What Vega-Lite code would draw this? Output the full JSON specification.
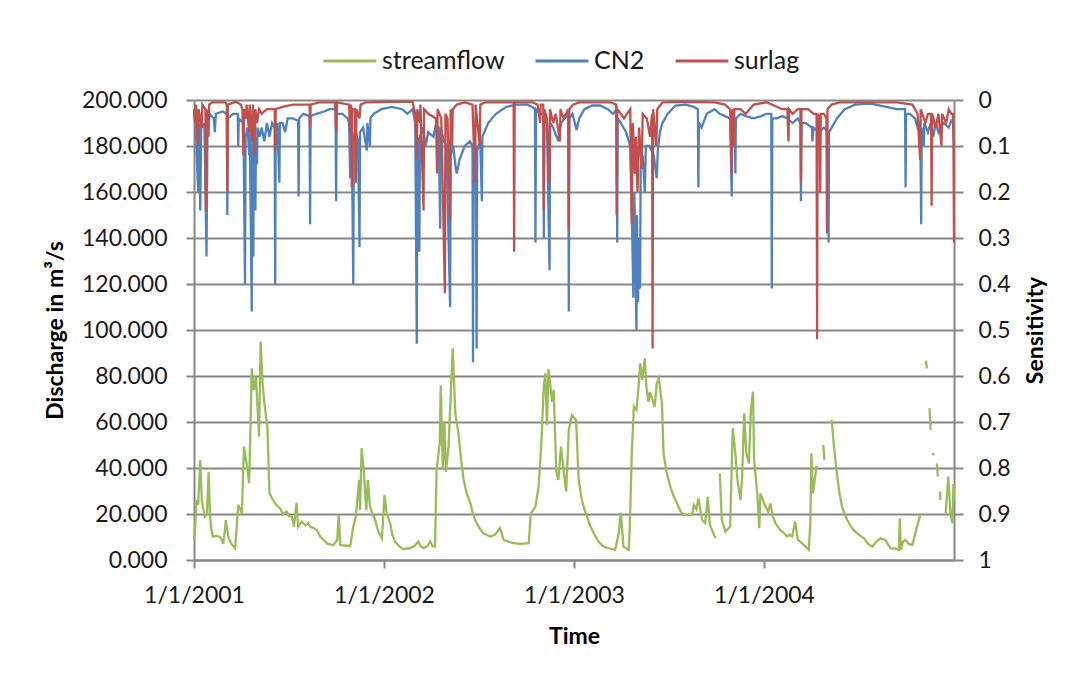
{
"$schema": "https://vega.github.io/schema/vega-lite/v6.json",
"width": 760, "height": 460,
"autosize": {"type": "none"},
"padding": {"left": 194, "top": 100, "right": 122, "bottom": 121},
"background": "white",
"config": {
  "font": "Lato",
  "view": {"stroke": null},
  "axis": {"labelFont": "Lato", "titleFont": "Lato", "labelColor": "#1a1a1a", "titleColor": "#000000", "domainColor": "#878787", "tickColor": "#878787", "gridColor": "#878787", "domainWidth": 2, "tickWidth": 2, "gridWidth": 2, "labelFontSize": 23, "titleFontSize": 23, "titleFontWeight": "bold", "labelOverlap": false, "labelFlush": false},
  "legend": {"labelFont": "Lato", "labelFontSize": 25, "labelColor": "#1a1a1a"}
},
"datasets": {
  "flow": [
    {"date":"2001-01-01","value":8.7},{"date":"2001-01-03","value":14},{"date":"2001-01-06","value":26},{"date":"2001-01-09","value":24},{"date":"2001-01-13","value":43.5},{"date":"2001-01-16","value":26},{"date":"2001-01-19","value":22},{"date":"2001-01-22","value":19},{"date":"2001-01-26","value":20},{"date":"2001-01-29","value":38.4},{"date":"2001-02-01","value":19},{"date":"2001-02-03","value":14},{"date":"2001-02-06","value":10.2},{"date":"2001-02-13","value":10.5},{"date":"2001-02-20","value":10},{"date":"2001-02-23","value":9},{"date":"2001-02-26","value":7},{"date":"2001-03-01","value":12},{"date":"2001-03-03","value":17.4},{"date":"2001-03-08","value":10},{"date":"2001-03-14","value":7},{"date":"2001-03-21","value":5.1},{"date":"2001-03-24","value":14},{"date":"2001-03-27","value":24},{"date":"2001-04-03","value":20.3},{"date":"2001-04-07","value":49.3},{"date":"2001-04-12","value":42},{"date":"2001-04-17","value":33.4},{"date":"2001-04-22","value":83.3},{"date":"2001-04-26","value":74},{"date":"2001-04-30","value":79.7},{"date":"2001-05-03","value":66.7},{"date":"2001-05-06","value":53.6},{"date":"2001-05-09","value":95},{"date":"2001-05-13","value":76},{"date":"2001-05-17","value":66.7},{"date":"2001-05-22","value":58},{"date":"2001-05-26","value":29},{"date":"2001-06-02","value":26},{"date":"2001-06-08","value":24},{"date":"2001-06-15","value":22.5},{"date":"2001-06-21","value":20},{"date":"2001-06-28","value":21},{"date":"2001-07-03","value":19},{"date":"2001-07-08","value":18.9},{"date":"2001-07-12","value":14.5},{"date":"2001-07-17","value":25},{"date":"2001-07-20","value":14.5},{"date":"2001-07-27","value":16.7},{"date":"2001-08-03","value":15},{"date":"2001-08-08","value":16},{"date":"2001-08-12","value":14.5},{"date":"2001-08-18","value":14},{"date":"2001-08-25","value":13},{"date":"2001-09-01","value":10},{"date":"2001-09-07","value":8.7},{"date":"2001-09-15","value":7},{"date":"2001-09-26","value":6.5},{"date":"2001-10-03","value":8.7},{"date":"2001-10-06","value":19.6},{"date":"2001-10-09","value":6.5},{"date":"2001-10-18","value":6.3},{"date":"2001-10-28","value":6.1},{"date":"2001-11-03","value":14.5},{"date":"2001-11-08","value":18.9},{"date":"2001-11-14","value":34.8},{"date":"2001-11-16","value":21.7},{"date":"2001-11-19","value":48.6},{"date":"2001-11-23","value":39.2},{"date":"2001-11-28","value":21.7},{"date":"2001-12-01","value":34.8},{"date":"2001-12-05","value":23.2},{"date":"2001-12-10","value":20},{"date":"2001-12-15","value":17.4},{"date":"2001-12-19","value":14},{"date":"2001-12-23","value":11.6},{"date":"2001-12-28","value":9.4},
    {"date":"2002-01-02","value":28.3},{"date":"2002-01-06","value":20.3},{"date":"2002-01-13","value":16},{"date":"2002-01-17","value":11},{"date":"2002-01-22","value":8},{"date":"2002-01-30","value":6},{"date":"2002-02-07","value":4.7},{"date":"2002-02-14","value":5},{"date":"2002-02-20","value":5.1},{"date":"2002-02-28","value":6},{"date":"2002-03-08","value":8},{"date":"2002-03-12","value":6},{"date":"2002-03-18","value":5.1},{"date":"2002-03-25","value":6},{"date":"2002-03-31","value":8},{"date":"2002-04-04","value":6},{"date":"2002-04-09","value":5.8},{"date":"2002-04-12","value":39.2},{"date":"2002-04-18","value":50.7},{"date":"2002-04-20","value":76},{"date":"2002-04-24","value":39.2},{"date":"2002-04-27","value":60.2},{"date":"2002-04-30","value":38.4},{"date":"2002-05-05","value":49.3},{"date":"2002-05-13","value":92},{"date":"2002-05-18","value":63.8},{"date":"2002-05-24","value":55},{"date":"2002-05-29","value":44},{"date":"2002-06-03","value":34.8},{"date":"2002-06-09","value":29},{"date":"2002-06-16","value":24.6},{"date":"2002-06-20","value":21},{"date":"2002-06-25","value":17.4},{"date":"2002-07-03","value":14},{"date":"2002-07-11","value":11.6},{"date":"2002-07-17","value":11},{"date":"2002-07-24","value":10.2},{"date":"2002-08-02","value":11},{"date":"2002-08-12","value":13.8},{"date":"2002-08-19","value":8.7},{"date":"2002-08-28","value":8},{"date":"2002-09-07","value":7.3},{"date":"2002-09-20","value":7},{"date":"2002-10-06","value":7.3},{"date":"2002-10-10","value":20.3},{"date":"2002-10-19","value":23.2},{"date":"2002-10-25","value":31.9},{"date":"2002-10-28","value":42},{"date":"2002-10-31","value":54.4},{"date":"2002-11-04","value":75.4},{"date":"2002-11-07","value":81.2},{"date":"2002-11-10","value":58.7},{"date":"2002-11-13","value":83},{"date":"2002-11-20","value":68.8},{"date":"2002-11-23","value":74},{"date":"2002-11-28","value":38.4},{"date":"2002-12-02","value":34.8},{"date":"2002-12-07","value":49.3},{"date":"2002-12-12","value":39.2},{"date":"2002-12-17","value":29.7},{"date":"2002-12-22","value":56.5},{"date":"2002-12-28","value":63},
    {"date":"2003-01-05","value":60.9},{"date":"2003-01-10","value":34.8},{"date":"2003-01-16","value":26.1},{"date":"2003-01-21","value":22},{"date":"2003-01-26","value":18.9},{"date":"2003-02-01","value":15},{"date":"2003-02-08","value":11.6},{"date":"2003-02-17","value":8},{"date":"2003-02-27","value":5.8},{"date":"2003-03-10","value":5},{"date":"2003-03-21","value":4.4},{"date":"2003-03-28","value":11.6},{"date":"2003-04-01","value":20.6},{"date":"2003-04-06","value":5.8},{"date":"2003-04-16","value":4.4},{"date":"2003-04-18","value":13.1},{"date":"2003-04-22","value":46.4},{"date":"2003-04-26","value":66.7},{"date":"2003-05-01","value":65.2},{"date":"2003-05-05","value":75.4},{"date":"2003-05-08","value":85.5},{"date":"2003-05-12","value":78.3},{"date":"2003-05-17","value":87.7},{"date":"2003-05-20","value":75.4},{"date":"2003-05-24","value":68.8},{"date":"2003-05-27","value":73},{"date":"2003-05-31","value":70.3},{"date":"2003-06-05","value":66.7},{"date":"2003-06-09","value":76.8},{"date":"2003-06-13","value":79},{"date":"2003-06-19","value":68.1},{"date":"2003-06-22","value":46.4},{"date":"2003-06-28","value":38},{"date":"2003-07-05","value":31.9},{"date":"2003-07-11","value":28},{"date":"2003-07-18","value":24.6},{"date":"2003-07-25","value":21},{"date":"2003-07-31","value":19.6},{"date":"2003-08-08","value":19.5},{"date":"2003-08-16","value":19.6},{"date":"2003-08-19","value":23.9},{"date":"2003-08-24","value":22},{"date":"2003-08-28","value":26.8},{"date":"2003-09-04","value":17.4},{"date":"2003-09-10","value":16},{"date":"2003-09-15","value":27.5},{"date":"2003-09-19","value":15.3},{"date":"2003-09-25","value":12},{"date":"2003-09-30","value":9.4},{"date":"2003-10-03","value":null},{"date":"2003-10-08","value":37.7},{"date":"2003-10-12","value":17.4},{"date":"2003-10-19","value":12.3},{"date":"2003-10-28","value":14.5},{"date":"2003-11-02","value":57.3},{"date":"2003-11-07","value":46.4},{"date":"2003-11-11","value":34.8},{"date":"2003-11-17","value":26.1},{"date":"2003-11-20","value":36.3},{"date":"2003-11-24","value":63.8},{"date":"2003-11-28","value":46.4},{"date":"2003-12-03","value":42},{"date":"2003-12-07","value":66},{"date":"2003-12-11","value":73.2},{"date":"2003-12-13","value":43.5},{"date":"2003-12-19","value":29},{"date":"2003-12-23","value":13.8},{"date":"2003-12-25","value":29},
    {"date":"2004-01-04","value":23.2},{"date":"2004-01-09","value":21},{"date":"2004-01-13","value":24.6},{"date":"2004-01-18","value":19},{"date":"2004-01-23","value":16},{"date":"2004-02-01","value":13.1},{"date":"2004-02-07","value":12},{"date":"2004-02-14","value":10.2},{"date":"2004-02-19","value":11},{"date":"2004-02-24","value":10.2},{"date":"2004-03-01","value":16.7},{"date":"2004-03-06","value":8.7},{"date":"2004-03-14","value":7.3},{"date":"2004-03-20","value":6},{"date":"2004-03-27","value":4.4},{"date":"2004-03-30","value":16},{"date":"2004-04-01","value":46.4},{"date":"2004-04-04","value":29},{"date":"2004-04-09","value":37.7},{"date":"2004-04-11","value":41},{"date":"2004-04-13","value":null},{"date":"2004-04-24","value":50},{"date":"2004-04-26","value":43.5},{"date":"2004-04-28","value":null},{"date":"2004-05-10","value":60.9},{"date":"2004-05-15","value":48},{"date":"2004-05-20","value":37.7},{"date":"2004-05-25","value":29},{"date":"2004-05-30","value":23.2},{"date":"2004-06-04","value":20},{"date":"2004-06-09","value":17.4},{"date":"2004-06-15","value":15},{"date":"2004-06-21","value":13.1},{"date":"2004-07-01","value":11},{"date":"2004-07-11","value":9.4},{"date":"2004-07-19","value":7},{"date":"2004-07-27","value":5.8},{"date":"2004-08-04","value":8},{"date":"2004-08-12","value":9.4},{"date":"2004-08-21","value":8.7},{"date":"2004-08-31","value":5.1},{"date":"2004-09-08","value":5},{"date":"2004-09-16","value":4.4},{"date":"2004-09-18","value":18.1},{"date":"2004-09-20","value":4.4},{"date":"2004-09-24","value":8},{"date":"2004-09-29","value":8.7},{"date":"2004-10-05","value":7},{"date":"2004-10-12","value":6.5},{"date":"2004-10-21","value":14.5},{"date":"2004-10-28","value":20.3},{"date":"2004-10-31","value":null},{"date":"2004-11-07","value":86.7},{"date":"2004-11-09","value":83.3},{"date":"2004-11-11","value":null},{"date":"2004-11-14","value":66},{"date":"2004-11-16","value":56.5},{"date":"2004-11-18","value":null},{"date":"2004-11-20","value":46.5},{"date":"2004-11-22","value":45.5},{"date":"2004-11-24","value":null},{"date":"2004-11-28","value":42},{"date":"2004-11-30","value":36.3},{"date":"2004-12-02","value":null},{"date":"2004-12-04","value":29.7},{"date":"2004-12-05","value":26.1},{"date":"2004-12-08","value":null},{"date":"2004-12-15","value":20.3},{"date":"2004-12-20","value":36.3},{"date":"2004-12-24","value":20.3},{"date":"2004-12-28","value":16},{"date":"2004-12-30","value":33},{"date":"2004-12-31","value":25}
  ],
  "cn2": [
    {"date":"2001-01-01","value":0.03},{"date":"2001-01-04","value":0.05},{"date":"2001-01-09","value":0.2},{"date":"2001-01-11","value":0.05},{"date":"2001-01-13","value":0.24},{"date":"2001-01-15","value":0.04},{"date":"2001-01-19","value":0.06},{"date":"2001-01-21","value":0.05},{"date":"2001-01-25","value":0.34},{"date":"2001-01-27","value":0.05},{"date":"2001-01-31","value":0.03},{"date":"2001-02-08","value":0.04},{"date":"2001-02-10","value":0.07},{"date":"2001-02-12","value":0.03},{"date":"2001-02-25","value":0.025},{"date":"2001-03-05","value":0.03},{"date":"2001-03-06","value":0.25},{"date":"2001-03-07","value":0.04},{"date":"2001-03-17","value":0.03},{"date":"2001-03-26","value":0.03},{"date":"2001-03-27","value":0.1},{"date":"2001-03-28","value":0.04},{"date":"2001-04-06","value":0.05},{"date":"2001-04-09","value":0.4},{"date":"2001-04-10","value":0.08},{"date":"2001-04-14","value":0.06},{"date":"2001-04-17","value":0.12},{"date":"2001-04-18","value":0.06},{"date":"2001-04-22","value":0.46},{"date":"2001-04-23","value":0.06},{"date":"2001-04-25","value":0.34},{"date":"2001-04-26","value":0.07},{"date":"2001-04-29","value":0.24},{"date":"2001-04-30","value":0.08},{"date":"2001-05-02","value":0.14},{"date":"2001-05-03","value":0.06},{"date":"2001-05-07","value":0.08},{"date":"2001-05-11","value":0.06},{"date":"2001-05-16","value":0.09},{"date":"2001-05-21","value":0.05},{"date":"2001-05-26","value":0.08},{"date":"2001-05-31","value":0.05},{"date":"2001-06-05","value":0.06},{"date":"2001-06-06","value":0.4},{"date":"2001-06-07","value":0.06},{"date":"2001-06-10","value":0.05},{"date":"2001-06-14","value":0.18},{"date":"2001-06-15","value":0.05},{"date":"2001-06-20","value":0.05},{"date":"2001-06-25","value":0.07},{"date":"2001-06-30","value":0.04},{"date":"2001-07-10","value":0.04},{"date":"2001-07-20","value":0.045},{"date":"2001-07-21","value":0.21},{"date":"2001-07-22","value":0.04},{"date":"2001-07-30","value":0.03},{"date":"2001-08-11","value":0.035},{"date":"2001-08-12","value":0.27},{"date":"2001-08-13","value":0.035},{"date":"2001-08-24","value":0.03},{"date":"2001-09-08","value":0.025},{"date":"2001-09-18","value":0.02},{"date":"2001-09-30","value":0.02},{"date":"2001-10-01","value":0.22},{"date":"2001-10-02","value":0.03},{"date":"2001-10-13","value":0.03},{"date":"2001-10-23","value":0.04},{"date":"2001-10-26","value":0.05},{"date":"2001-10-28","value":0.17},{"date":"2001-10-29","value":0.06},{"date":"2001-10-31","value":0.07},{"date":"2001-11-03","value":0.4},{"date":"2001-11-04","value":0.08},{"date":"2001-11-07","value":0.06},{"date":"2001-11-12","value":0.09},{"date":"2001-11-15","value":0.32},{"date":"2001-11-16","value":0.07},{"date":"2001-11-22","value":0.06},{"date":"2001-11-29","value":0.11},{"date":"2001-11-30","value":0.05},{"date":"2001-12-05","value":0.1},{"date":"2001-12-06","value":0.04},{"date":"2001-12-12","value":0.03},{"date":"2001-12-27","value":0.02},
    {"date":"2002-01-16","value":0.015},{"date":"2002-02-05","value":0.02},{"date":"2002-02-15","value":0.03},{"date":"2002-02-25","value":0.02},{"date":"2002-03-02","value":0.05},{"date":"2002-03-05","value":0.53},{"date":"2002-03-06","value":0.08},{"date":"2002-03-08","value":0.1},{"date":"2002-03-10","value":0.33},{"date":"2002-03-11","value":0.08},{"date":"2002-03-17","value":0.06},{"date":"2002-03-22","value":0.1},{"date":"2002-03-27","value":0.07},{"date":"2002-04-06","value":0.08},{"date":"2002-04-11","value":0.05},{"date":"2002-04-16","value":0.06},{"date":"2002-04-19","value":0.28},{"date":"2002-04-20","value":0.06},{"date":"2002-04-26","value":0.09},{"date":"2002-05-01","value":0.1},{"date":"2002-05-08","value":0.45},{"date":"2002-05-09","value":0.12},{"date":"2002-05-14","value":0.1},{"date":"2002-05-19","value":0.15},{"date":"2002-05-21","value":0.16},{"date":"2002-05-26","value":0.13},{"date":"2002-06-05","value":0.1},{"date":"2002-06-15","value":0.09},{"date":"2002-06-20","value":0.1},{"date":"2002-06-21","value":0.57},{"date":"2002-06-22","value":0.12},{"date":"2002-06-26","value":0.1},{"date":"2002-06-28","value":0.54},{"date":"2002-06-29","value":0.11},{"date":"2002-07-05","value":0.09},{"date":"2002-07-08","value":0.22},{"date":"2002-07-09","value":0.08},{"date":"2002-07-20","value":0.05},{"date":"2002-08-04","value":0.03},{"date":"2002-08-24","value":0.015},{"date":"2002-09-13","value":0.01},{"date":"2002-10-03","value":0.01},{"date":"2002-10-13","value":0.015},{"date":"2002-10-18","value":0.02},{"date":"2002-10-19","value":0.31},{"date":"2002-10-20","value":0.02},{"date":"2002-10-28","value":0.03},{"date":"2002-11-03","value":0.03},{"date":"2002-11-04","value":0.3},{"date":"2002-11-05","value":0.04},{"date":"2002-11-10","value":0.05},{"date":"2002-11-15","value":0.37},{"date":"2002-11-16","value":0.05},{"date":"2002-11-22","value":0.06},{"date":"2002-12-02","value":0.09},{"date":"2002-12-07","value":0.05},{"date":"2002-12-14","value":0.04},{"date":"2002-12-21","value":0.03},{"date":"2002-12-22","value":0.46},{"date":"2002-12-23","value":0.04},{"date":"2002-12-29","value":0.03},
    {"date":"2003-01-06","value":0.065},{"date":"2003-01-11","value":0.04},{"date":"2003-01-21","value":0.02},{"date":"2003-02-05","value":0.012},{"date":"2003-02-20","value":0.012},{"date":"2003-03-07","value":0.02},{"date":"2003-03-17","value":0.03},{"date":"2003-03-24","value":0.02},{"date":"2003-03-25","value":0.31},{"date":"2003-03-26","value":0.04},{"date":"2003-04-01","value":0.05},{"date":"2003-04-11","value":0.07},{"date":"2003-04-19","value":0.1},{"date":"2003-04-23","value":0.3},{"date":"2003-04-25","value":0.43},{"date":"2003-04-27","value":0.2},{"date":"2003-04-29","value":0.35},{"date":"2003-05-01","value":0.5},{"date":"2003-05-02","value":0.25},{"date":"2003-05-04","value":0.44},{"date":"2003-05-06","value":0.3},{"date":"2003-05-08","value":0.41},{"date":"2003-05-09","value":0.15},{"date":"2003-05-13","value":0.12},{"date":"2003-05-17","value":0.2},{"date":"2003-05-19","value":0.1},{"date":"2003-05-26","value":0.1},{"date":"2003-06-03","value":0.12},{"date":"2003-06-09","value":0.17},{"date":"2003-06-11","value":0.11},{"date":"2003-06-15","value":0.07},{"date":"2003-06-20","value":0.05},{"date":"2003-06-30","value":0.03},{"date":"2003-07-15","value":0.012},{"date":"2003-08-04","value":0.01},{"date":"2003-08-19","value":0.015},{"date":"2003-08-27","value":0.02},{"date":"2003-08-28","value":0.19},{"date":"2003-08-29","value":0.05},{"date":"2003-09-03","value":0.06},{"date":"2003-09-13","value":0.03},{"date":"2003-09-28","value":0.02},{"date":"2003-10-08","value":0.03},{"date":"2003-10-18","value":0.035},{"date":"2003-10-28","value":0.04},{"date":"2003-10-31","value":0.21},{"date":"2003-11-01","value":0.06},{"date":"2003-11-06","value":0.05},{"date":"2003-11-07","value":0.16},{"date":"2003-11-08","value":0.04},{"date":"2003-11-17","value":0.03},{"date":"2003-11-27","value":0.035},{"date":"2003-12-12","value":0.04},{"date":"2003-12-27","value":0.035},
    {"date":"2004-01-06","value":0.03},{"date":"2004-01-15","value":0.03},{"date":"2004-01-16","value":0.41},{"date":"2004-01-17","value":0.04},{"date":"2004-01-26","value":0.04},{"date":"2004-02-05","value":0.035},{"date":"2004-02-15","value":0.04},{"date":"2004-02-25","value":0.05},{"date":"2004-03-06","value":0.04},{"date":"2004-03-11","value":0.05},{"date":"2004-03-12","value":0.22},{"date":"2004-03-13","value":0.05},{"date":"2004-03-21","value":0.05},{"date":"2004-04-02","value":0.06},{"date":"2004-04-03","value":0.09},{"date":"2004-04-05","value":0.06},{"date":"2004-04-15","value":0.07},{"date":"2004-04-25","value":0.06},{"date":"2004-05-03","value":0.07},{"date":"2004-05-04","value":0.31},{"date":"2004-05-05","value":0.07},{"date":"2004-05-10","value":0.06},{"date":"2004-05-20","value":0.04},{"date":"2004-06-04","value":0.02},{"date":"2004-06-24","value":0.01},{"date":"2004-07-24","value":0.008},{"date":"2004-08-23","value":0.015},{"date":"2004-09-12","value":0.02},{"date":"2004-09-28","value":0.02},{"date":"2004-09-29","value":0.19},{"date":"2004-09-30","value":0.03},{"date":"2004-10-07","value":0.03},{"date":"2004-10-17","value":0.04},{"date":"2004-10-22","value":0.06},{"date":"2004-10-27","value":0.05},{"date":"2004-10-29","value":0.27},{"date":"2004-10-30","value":0.06},{"date":"2004-11-03","value":0.1},{"date":"2004-11-04","value":0.05},{"date":"2004-11-11","value":0.07},{"date":"2004-11-16","value":0.05},{"date":"2004-11-21","value":0.08},{"date":"2004-11-26","value":0.05},{"date":"2004-12-01","value":0.07},{"date":"2004-12-11","value":0.05},{"date":"2004-12-21","value":0.06},{"date":"2004-12-26","value":0.045},{"date":"2004-12-31","value":0.05}
  ],
  "surlag": [
    {"date":"2001-01-01","value":0.02},{"date":"2001-01-03","value":0.05},{"date":"2001-01-05","value":0.01},{"date":"2001-01-09","value":0.1},{"date":"2001-01-10","value":0.02},{"date":"2001-01-16","value":0.06},{"date":"2001-01-17","value":0.01},{"date":"2001-01-23","value":0.02},{"date":"2001-01-24","value":0.24},{"date":"2001-01-25","value":0.02},{"date":"2001-01-29","value":0.08},{"date":"2001-01-30","value":0.01},{"date":"2001-02-05","value":0.005},{"date":"2001-03-02","value":0.005},{"date":"2001-03-05","value":0.01},{"date":"2001-03-06","value":0.2},{"date":"2001-03-07","value":0.01},{"date":"2001-03-22","value":0.004},{"date":"2001-04-01","value":0.01},{"date":"2001-04-04","value":0.02},{"date":"2001-04-06","value":0.12},{"date":"2001-04-07","value":0.02},{"date":"2001-04-11","value":0.04},{"date":"2001-04-12","value":0.01},{"date":"2001-04-17","value":0.07},{"date":"2001-04-18","value":0.01},{"date":"2001-04-23","value":0.09},{"date":"2001-04-24","value":0.01},{"date":"2001-04-28","value":0.12},{"date":"2001-04-29","value":0.02},{"date":"2001-05-02","value":0.05},{"date":"2001-05-06","value":0.02},{"date":"2001-05-11","value":0.03},{"date":"2001-05-21","value":0.02},{"date":"2001-06-05","value":0.02},{"date":"2001-06-06","value":0.11},{"date":"2001-06-07","value":0.02},{"date":"2001-06-20","value":0.015},{"date":"2001-07-10","value":0.01},{"date":"2001-08-11","value":0.01},{"date":"2001-08-12","value":0.06},{"date":"2001-08-13","value":0.01},{"date":"2001-08-29","value":0.005},{"date":"2001-09-29","value":0.005},{"date":"2001-10-01","value":0.07},{"date":"2001-10-03","value":0.005},{"date":"2001-10-26","value":0.01},{"date":"2001-10-28","value":0.07},{"date":"2001-10-30","value":0.01},{"date":"2001-10-31","value":0.19},{"date":"2001-11-01","value":0.02},{"date":"2001-11-06","value":0.02},{"date":"2001-11-08","value":0.18},{"date":"2001-11-09","value":0.02},{"date":"2001-11-15","value":0.04},{"date":"2001-11-17","value":0.01},{"date":"2001-11-27","value":0.005},
    {"date":"2002-01-16","value":0.004},{"date":"2002-02-25","value":0.004},{"date":"2002-03-02","value":0.03},{"date":"2002-03-05","value":0.13},{"date":"2002-03-06","value":0.02},{"date":"2002-03-11","value":0.05},{"date":"2002-03-12","value":0.01},{"date":"2002-03-18","value":0.24},{"date":"2002-03-19","value":0.02},{"date":"2002-03-27","value":0.03},{"date":"2002-04-11","value":0.04},{"date":"2002-04-13","value":0.16},{"date":"2002-04-14","value":0.02},{"date":"2002-04-21","value":0.04},{"date":"2002-04-28","value":0.42},{"date":"2002-04-29","value":0.03},{"date":"2002-05-03","value":0.04},{"date":"2002-05-08","value":0.26},{"date":"2002-05-09","value":0.02},{"date":"2002-05-12","value":0.1},{"date":"2002-05-13","value":0.02},{"date":"2002-05-21","value":0.01},{"date":"2002-06-05","value":0.005},{"date":"2002-06-20","value":0.01},{"date":"2002-06-25","value":0.18},{"date":"2002-06-26","value":0.01},{"date":"2002-07-04","value":0.1},{"date":"2002-07-05","value":0.01},{"date":"2002-07-15","value":0.005},{"date":"2002-09-07","value":0.005},{"date":"2002-09-08","value":0.33},{"date":"2002-09-09","value":0.005},{"date":"2002-10-13","value":0.005},{"date":"2002-10-23","value":0.01},{"date":"2002-10-28","value":0.05},{"date":"2002-10-29","value":0.01},{"date":"2002-11-03","value":0.01},{"date":"2002-11-04","value":0.24},{"date":"2002-11-05","value":0.02},{"date":"2002-11-10","value":0.04},{"date":"2002-11-15","value":0.18},{"date":"2002-11-16","value":0.02},{"date":"2002-11-22","value":0.05},{"date":"2002-11-27","value":0.03},{"date":"2002-12-05","value":0.09},{"date":"2002-12-06","value":0.02},{"date":"2002-12-12","value":0.04},{"date":"2002-12-21","value":0.02},{"date":"2002-12-22","value":0.28},{"date":"2002-12-23","value":0.02},{"date":"2002-12-30","value":0.01},
    {"date":"2003-01-11","value":0.005},{"date":"2003-03-12","value":0.005},{"date":"2003-03-23","value":0.01},{"date":"2003-03-24","value":0.25},{"date":"2003-03-25","value":0.02},{"date":"2003-04-01","value":0.03},{"date":"2003-04-07","value":0.04},{"date":"2003-04-19","value":0.02},{"date":"2003-04-22","value":0.27},{"date":"2003-04-24","value":0.05},{"date":"2003-04-28","value":0.16},{"date":"2003-04-30","value":0.08},{"date":"2003-05-03","value":0.2},{"date":"2003-05-06","value":0.06},{"date":"2003-05-11","value":0.15},{"date":"2003-05-13","value":0.03},{"date":"2003-05-21","value":0.04},{"date":"2003-05-27","value":0.08},{"date":"2003-05-31","value":0.03},{"date":"2003-06-01","value":0.54},{"date":"2003-06-02","value":0.02},{"date":"2003-06-08","value":0.1},{"date":"2003-06-10","value":0.02},{"date":"2003-06-20","value":0.005},{"date":"2003-07-30","value":0.004},{"date":"2003-09-28","value":0.005},{"date":"2003-10-18","value":0.01},{"date":"2003-10-28","value":0.02},{"date":"2003-10-31","value":0.16},{"date":"2003-11-01","value":0.02},{"date":"2003-11-04","value":0.1},{"date":"2003-11-05","value":0.02},{"date":"2003-11-17","value":0.02},{"date":"2003-11-27","value":0.03},{"date":"2003-12-12","value":0.01},
    {"date":"2004-01-06","value":0.005},{"date":"2004-02-05","value":0.02},{"date":"2004-02-15","value":0.02},{"date":"2004-02-17","value":0.09},{"date":"2004-02-18","value":0.02},{"date":"2004-02-25","value":0.03},{"date":"2004-03-06","value":0.02},{"date":"2004-03-11","value":0.02},{"date":"2004-03-12","value":0.18},{"date":"2004-03-13","value":0.02},{"date":"2004-03-26","value":0.02},{"date":"2004-04-05","value":0.03},{"date":"2004-04-11","value":0.03},{"date":"2004-04-12","value":0.52},{"date":"2004-04-13","value":0.03},{"date":"2004-04-17","value":0.04},{"date":"2004-04-18","value":0.2},{"date":"2004-04-19","value":0.03},{"date":"2004-04-25","value":0.03},{"date":"2004-04-30","value":0.04},{"date":"2004-05-01","value":0.29},{"date":"2004-05-02","value":0.02},{"date":"2004-05-10","value":0.01},{"date":"2004-05-25","value":0.005},{"date":"2004-09-12","value":0.005},{"date":"2004-10-12","value":0.01},{"date":"2004-10-22","value":0.03},{"date":"2004-10-27","value":0.13},{"date":"2004-10-28","value":0.02},{"date":"2004-11-06","value":0.05},{"date":"2004-11-11","value":0.03},{"date":"2004-11-17","value":0.03},{"date":"2004-11-18","value":0.23},{"date":"2004-11-19","value":0.03},{"date":"2004-11-26","value":0.06},{"date":"2004-12-01","value":0.03},{"date":"2004-12-07","value":0.1},{"date":"2004-12-08","value":0.03},{"date":"2004-12-16","value":0.05},{"date":"2004-12-21","value":0.02},{"date":"2004-12-26","value":0.03},{"date":"2004-12-29","value":0.03},{"date":"2004-12-30","value":0.1},{"date":"2004-12-31","value":0.31}
  ]
},
"encoding": {
  "x": {"field": "date", "type": "temporal",
    "scale": {"type": "utc", "domain": [{"year": 2001, "month": 1, "date": 1, "utc": true}, {"year": 2004, "month": 12, "date": 31, "utc": true}]},
    "axis": {"title": "Time", "format": "%-m/%-d/%Y", "grid": false, "tickSize": 8, "labelPadding": 16, "titlePadding": 18,
      "values": [{"year": 2001, "month": 1, "date": 1, "utc": true}, {"year": 2002, "month": 1, "date": 1, "utc": true}, {"year": 2003, "month": 1, "date": 1, "utc": true}, {"year": 2004, "month": 1, "date": 1, "utc": true}]}}
},
"layer": [
  {
    "data": {"name": "flow"},
    "mark": {"type": "line", "strokeWidth": 2.3},
    "encoding": {
      "y": {"field": "value", "type": "quantitative", "scale": {"domain": [0, 200], "nice": false, "zero": true},
        "axis": {"orient": "left", "title": "Discharge in m³/s", "format": ".3f", "values": [0, 20, 40, 60, 80, 100, 120, 140, 160, 180, 200], "grid": true, "tickSize": 8, "labelPadding": 19, "titlePadding": 14}},
      "color": {"datum": "streamflow", "type": "nominal",
        "scale": {"domain": ["streamflow", "CN2", "surlag"], "range": ["#9BBB59", "#4F81BD", "#C0504D"]},
        "legend": {"title": null, "orient": "none", "direction": "horizontal", "legendX": 128, "legendY": -67, "symbolType": "stroke", "symbolSize": 2800, "symbolStrokeWidth": 3, "labelOffset": 4, "columnPadding": 24}}
    }
  },
  {
    "encoding": {
      "y": {"field": "value", "type": "quantitative", "scale": {"domain": [0, 1], "reverse": true, "nice": false},
        "axis": {"orient": "right", "title": "Sensitivity", "format": ".1~f", "values": [0, 0.1, 0.2, 0.3, 0.4, 0.5, 0.6, 0.7, 0.8, 0.9, 1], "grid": false, "tickSize": 9, "labelPadding": 15, "titlePadding": 14, "titleAngle": 270, "titleBaseline": "top"}}
    },
    "layer": [
      {"data": {"name": "cn2"}, "mark": {"type": "line", "strokeWidth": 2.3}, "encoding": {"color": {"datum": "CN2", "type": "nominal"}}},
      {"data": {"name": "surlag"}, "mark": {"type": "line", "strokeWidth": 2.3}, "encoding": {"color": {"datum": "surlag", "type": "nominal"}}}
    ]
  }
],
"resolve": {"scale": {"y": "independent"}}
}
